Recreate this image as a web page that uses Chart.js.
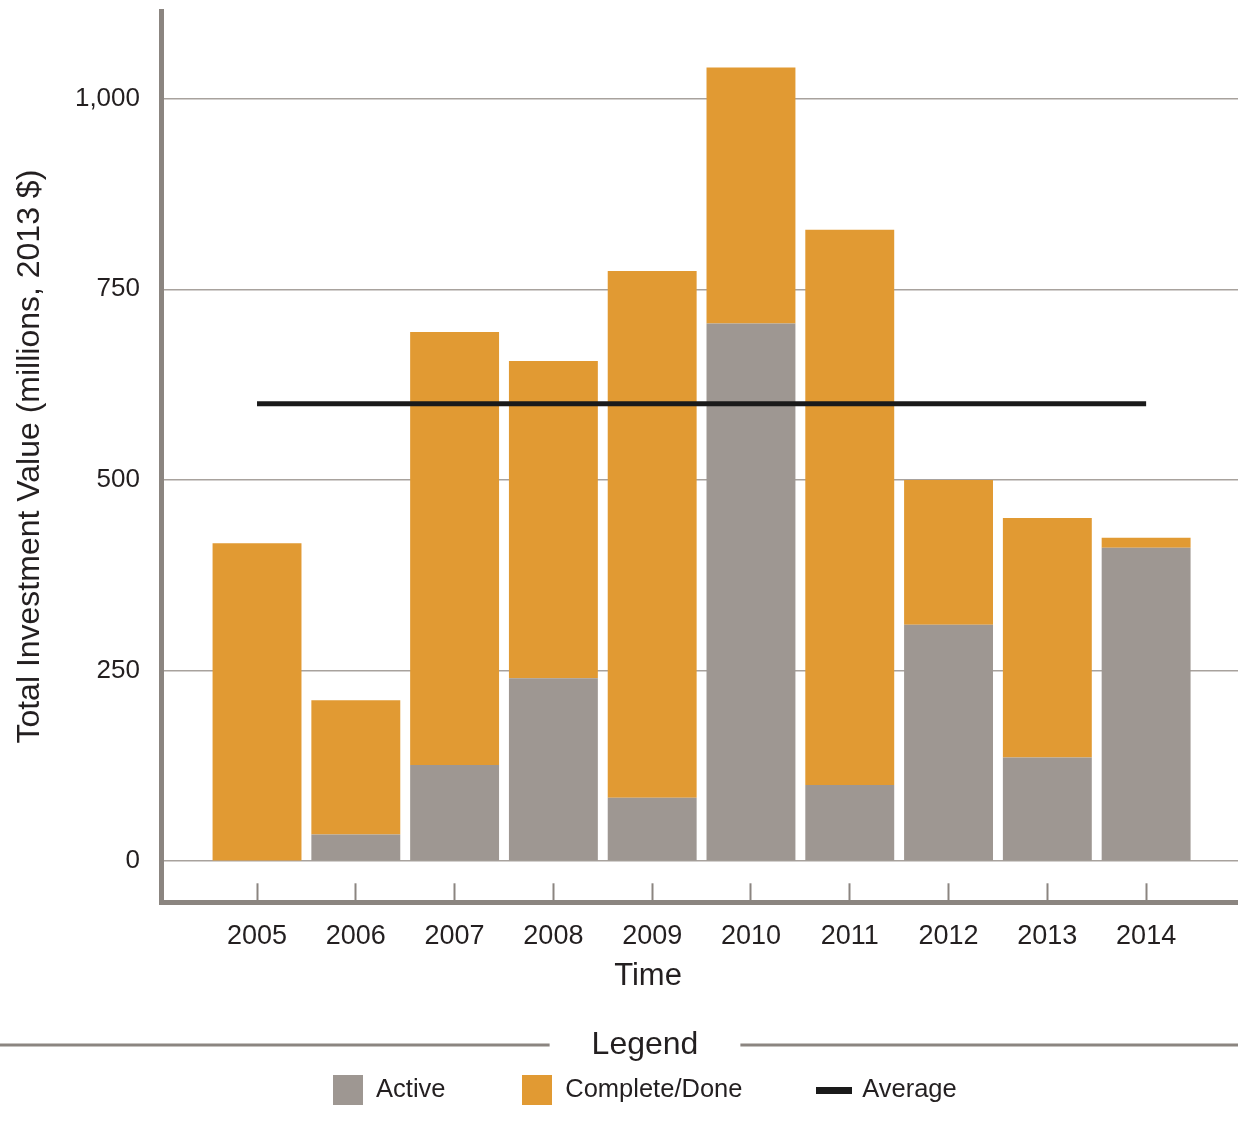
<!DOCTYPE html>
<html>
<head>
<meta charset="utf-8">
<script src="https://cdn.jsdelivr.net/npm/chart.js@4.4.0/dist/chart.umd.min.js"></script>
<style>
html, body { margin: 0; padding: 0; background: #fff; }
#wrap { width: 1238px; height: 1128px; position: relative; }
</style>
</head>
<body>
<div id="wrap"><canvas id="chart"></canvas></div>
<script>
var years = [2005, 2006, 2007, 2008, 2009, 2010, 2011, 2012, 2013, 2014];
var active = [0, 35, 126, 240, 83, 705, 100, 310, 136, 411];
var complete = [417, 176, 568, 416, 691, 336, 728, 190, 314, 13];
var average = [600, 600, 600, 600, 600, 600, 600, 600, 600, 600];
var yTicks = [0, 250, 500, 750, 1000];

var grey = '#9e9792';
var orange = '#e19a33';
var ink = '#231f20';
var axisGrey = '#8b8580';
Chart.defaults.font.family = "'Liberation Sans', Arial, Helvetica, sans-serif";
Chart.defaults.color = ink;

// little canvases used as legend markers
function swatch(w, h, color) {
  var c = document.createElement('canvas');
  c.width = w; c.height = h;
  var g = c.getContext('2d');
  g.fillStyle = color;
  g.fillRect(0, 0, w, h);
  return c;
}
var legendMarks = [swatch(30, 30, grey), swatch(30, 30, orange), swatch(36, 7, '#1a1a1a')];

var legendTitlePad = 34;
var legendTitleFont = 32;

// move title + legend sideways, the original figure is not centred on the canvas
var shiftBoxes = {
  id: 'shiftBoxes',
  afterLayout: function(chart) {
    chart.titleBlock.left += 29; chart.titleBlock.right += 29;
    chart.legend.left += 26; chart.legend.right += 26;
  }
};

// horizontal rules either side of "Legend"
var legendRules = {
  id: 'legendRules',
  afterDraw: function(chart) {
    var lg = chart.legend;
    var ctx = chart.ctx;
    var cx = (lg.left + lg.right) / 2;
    var cy = lg.top + legendTitlePad + legendTitleFont / 2 - 0.5;
    ctx.save();
    ctx.font = legendTitleFont + "px " + Chart.defaults.font.family;
    var w = ctx.measureText('Legend').width;
    ctx.strokeStyle = axisGrey;
    ctx.lineWidth = 3;
    ctx.beginPath();
    ctx.moveTo(0, cy); ctx.lineTo(cx - w / 2 - 42, cy);
    ctx.moveTo(cx + w / 2 + 42, cy); ctx.lineTo(chart.width, cy);
    ctx.stroke();
    ctx.restore();
  }
};

var ctx = document.getElementById('chart').getContext('2d');
var chart = new Chart(ctx, {
  type: 'bar',
  data: {
    labels: years,
    datasets: [
      { label: 'Active', data: active, backgroundColor: grey, borderWidth: 0, order: 1,
        barPercentage: 0.9, categoryPercentage: 1 },
      { label: 'Complete/Done', data: complete, backgroundColor: orange, borderWidth: 0, order: 1,
        barPercentage: 0.9, categoryPercentage: 1 },
      { type: 'line', label: 'Average', data: average, borderColor: '#1a1a1a', borderWidth: 5,
        pointRadius: 0, fill: false, order: 0, stack: 'avg' }
    ]
  },
  plugins: [shiftBoxes, legendRules],
  options: {
    responsive: true,
    maintainAspectRatio: false,
    animation: false,
    layout: { autoPadding: false, padding: { top: 11, left: 0, right: 0, bottom: 14.8 } },
    scales: {
      x: {
        type: 'linear',
        stacked: true,
        offset: false,
        bounds: 'data',
        min: 2004.028,
        max: 2014.93,
        afterBuildTicks: function(s) { s.ticks = years.map(function(v) { return { value: v }; }); },
        afterFit: function(s) { s.height = 47; s.paddingLeft = 0; s.paddingRight = 0; },
        grid: { offset: false, drawOnChartArea: false, drawTicks: true, tickLength: -19,
                tickColor: axisGrey, tickWidth: 2 },
        border: { display: true, color: axisGrey, width: 5 },
        ticks: { padding: 37.5, maxRotation: 0, autoSkip: false, color: ink,
                 font: { size: 27 }, callback: function(v) { return String(v); } }
      },
      y: {
        stacked: true,
        bounds: 'data',
        min: -54,
        max: 1115,
        afterBuildTicks: function(s) { s.ticks = yTicks.map(function(v) { return { value: v }; }); },
        afterFit: function(s) { s.width = 161; s.paddingTop = 0; s.paddingBottom = 0; },
        grid: { color: '#a8a29d', lineWidth: 1.5, drawTicks: false },
        border: { display: true, color: axisGrey, width: 5 },
        ticks: { padding: 21, color: ink, font: { size: 26 },
                 callback: function(v) { return v.toLocaleString('en-US'); } },
        title: { display: true, text: 'Total Investment Value (millions, 2013 $)', color: ink,
                 font: { size: 32 }, padding: { top: 11, bottom: 0 } }
      }
    },
    plugins: {
      tooltip: { enabled: false },
      title: {
        display: true, position: 'bottom', text: 'Time', color: ink, weight: 500,
        font: { size: 31, weight: 'normal' }, padding: { top: 9, bottom: 0 }
      },
      legend: {
        position: 'bottom',
        title: { display: true, text: 'Legend', color: ink,
                 font: { size: legendTitleFont }, padding: { top: legendTitlePad, bottom: -67.2 } },
        labels: {
          usePointStyle: true,
          pointStyleWidth: 30,
          boxHeight: 25.5,
          padding: 77,
          color: ink,
          font: { size: 25.5 },
          generateLabels: function(chart) {
            return chart.data.datasets.map(function(ds, i) {
              return { text: ds.label, pointStyle: legendMarks[i], fillStyle: 'transparent',
                       strokeStyle: 'transparent', lineWidth: 0, hidden: false,
                       datasetIndex: i, fontColor: ink };
            });
          }
        }
      }
    }
  }
});
</script>
</body>
</html>
